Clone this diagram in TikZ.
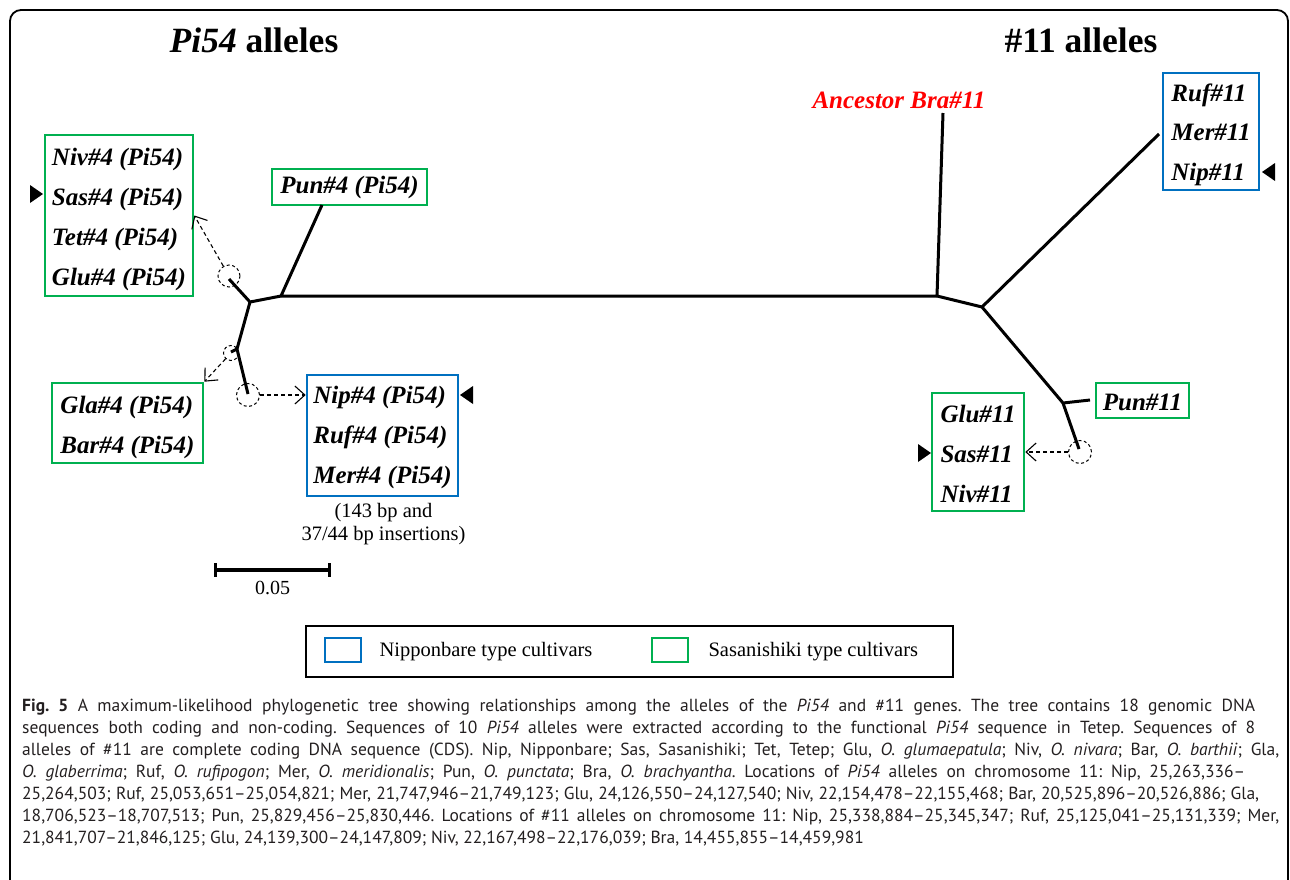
\documentclass[tikz,border=0pt]{standalone}
\usepackage{fontspec}
\setmainfont{Liberation Serif}
\newfontfamily\capfont{PT Sans}
\usetikzlibrary{arrows.meta,calc}
\definecolor{nipblue}{RGB}{0,112,192}
\definecolor{sasgreen}{RGB}{0,176,80}
\definecolor{capgray}{RGB}{35,31,32}
\newcommand{\tup}[1]{\rule{0pt}{#1}}
\begin{document}
\begin{tikzpicture}[x=1pt,y=-1pt,
  lbl/.style={font=\fontsize{25}{40}\selectfont\bfseries\itshape, align=left, inner sep=0pt},
  bluebox/.style={lbl, draw=nipblue, line width=2.6pt},
  greenbox/.style={lbl, draw=sasgreen, line width=2.6pt},
  branch/.style={line width=3pt, line join=round},
  dcirc/.style={circle, draw, dashed, dash pattern=on 3pt off 2.5pt, line width=1pt, inner sep=0pt},
  darr/.style={dash pattern=on 4pt off 3pt, line width=1.1pt, -{Straight Barb[length=10pt,width=18pt,line width=1.1pt]}},
  legtext/.style={anchor=west, font=\fontsize{20.5}{24}\selectfont},
  capline/.style={anchor=base west, inner sep=0pt, font=\capfont\fontsize{17.5}{22}\selectfont\frenchspacing, text=capgray}
]
\useasboundingbox (0,0) rectangle (1290,879);
% frame
\draw[line width=1.8pt, rounded corners=11pt] (10,900) -- (10,10) -- (1288,10) -- (1288,900);
% titles
\node[anchor=base, font=\fontsize{35.5}{40}\selectfont\bfseries] (t1) at (254,52) {\textit{Pi54} alleles};
\node[anchor=base, font=\fontsize{35.5}{40}\selectfont\bfseries] (t2) at (1081,52) {\#11 alleles};
% boxes
\node[greenbox, minimum width=148, minimum height=161] (niv4) at (119,215.5) {\tup{25pt}Niv\#4 (Pi54)\\Sas\#4 (Pi54)\\Tet\#4 (Pi54)\\Glu\#4 (Pi54)};
\node[greenbox, minimum width=155, minimum height=36] (pun4) at (349.5,187) {Pun\#4 (Pi54)};
\node[greenbox, minimum width=151, minimum height=80] (gla4) at (127.5,423) {\tup{27pt}Gla\#4 (Pi54)\\Bar\#4 (Pi54)};
\node[bluebox, minimum width=151, minimum height=121] (nip4) at (382.5,435.5) {\tup{22pt}Nip\#4 (Pi54)\\Ruf\#4 (Pi54)\\Mer\#4 (Pi54)};
\node[bluebox, minimum width=96, minimum height=117] (ruf11) at (1211,131.5) {\tup{25pt}Ruf\#11\\[-1pt]Mer\#11\\Nip\#11};
\node[greenbox, minimum width=93, minimum height=35] (pun11) at (1142.5,400.5) {\tup{20pt}Pun\#11};
\node[greenbox, minimum width=92, minimum height=118] (glu11) at (978,452) {\tup{22pt}Glu\#11\\Sas\#11\\Niv\#11};
\node[lbl, anchor=base, text=red] (bra11) at (899,108) {Ancestor Bra\#11};
\node[anchor=base, align=center, font=\fontsize{20.5}{23}\selectfont] (ins) at (383.5,540) {(143 bp and\\37/44 bp insertions)};
% markers
\fill (30,185) -- (43,194) -- (30,203) -- cycle;
\fill (473,386) -- (460,395) -- (473,404) -- cycle;
\fill (1275,163) -- (1262,172) -- (1275,181) -- cycle;
\fill (918,444) -- (931,453) -- (918,462) -- cycle;
% tree coordinates
\coordinate (p1) at (281,296);
\coordinate (a) at (250,302);
\coordinate (b) at (237,349);
\coordinate (c) at (248,394);
\coordinate (la) at (229,279);
\coordinate (lb) at (231,352);
\coordinate (punleaf) at (322,205);
\coordinate (d) at (937,296);
\coordinate (e) at (982,307);
\coordinate (f) at (1063,403);
\coordinate (g) at (1079,449);
\coordinate (bra) at (943,113);
\coordinate (rufleaf) at (1159,134);
\coordinate (pun11leaf) at (1090,400);
% tree
\draw[branch] (punleaf) -- (p1) -- (d) -- (bra);
\draw[branch] (p1) -- (a) -- (la);
\draw[branch] (a) -- (b) -- (c);
\draw[branch] (b) -- (lb);
\draw[branch] (d) -- (e) -- (rufleaf);
\draw[branch] (e) -- (f) -- (pun11leaf);
\draw[branch] (f) -- (g);
% dashed circles
\node[dcirc, minimum size=22] (c1) at (229,276) {};
\node[dcirc, minimum size=15] (c2) at (231,353) {};
\node[dcirc, minimum size=23] (c3) at (248,395) {};
\node[dcirc, minimum size=23] (c4) at (1080,452) {};
% dashed arrows
\draw[darr] (c1) -- (niv4.east);
\draw[darr] (c2) -- (gla4.north east);
\draw[darr] (c3) -- (c3 -| nip4.west);
\draw[darr] (c4) -- (c4 -| glu11.east);
% scale bar
\coordinate (sb1) at (215,570);
\coordinate (sb2) at (329,570);
\draw[line width=3.5pt] (sb1) -- (sb2);
\draw[line width=3pt] (215,563) -- (215,577) (329,563) -- (329,577);
\node[anchor=base, font=\fontsize{20}{24}\selectfont] (sblbl) at (272.5,594) {0.05};
% legend
\node[draw, line width=2.6pt, minimum width=647, minimum height=51] (legend) at (629.5,651.5) {};
\node[draw=nipblue, line width=2.6pt, minimum width=36, minimum height=24] (legnip) at (343,650) {};
\node[legtext] (legniptxt) at (376,652) {Nipponbare type cultivars};
\node[draw=sasgreen, line width=2.6pt, minimum width=36, minimum height=24] (legsas) at (670,650) {};
\node[legtext] (legsastxt) at (705,652) {Sasanishiki type cultivars};
% caption
\node[capline] (cap1) at (22,711) {\makebox[1233pt][s]{\textbf{Fig. 5} A maximum-likelihood phylogenetic tree showing relationships among the alleles of the \textit{Pi54} and \#11 genes. The tree contains 18 genomic DNA}};
\node[capline] (cap2) at (22,733) {\makebox[1233pt][s]{sequences both coding and non-coding. Sequences of 10 \textit{Pi54} alleles were extracted according to the functional \textit{Pi54} sequence in Tetep. Sequences of 8}};
\node[capline] (cap3) at (22,755) {\makebox[1257pt][s]{alleles of \#11 are complete coding DNA sequence (CDS). Nip, Nipponbare; Sas, Sasanishiki; Tet, Tetep; Glu, \textit{O. glumaepatula}; Niv, \textit{O. nivara}; Bar, \textit{O. barthii}; Gla,}};
\node[capline] (cap4) at (22,777) {\makebox[1223pt][s]{\textit{O. glaberrima}; Ruf, \textit{O. rufipogon}; Mer, \textit{O. meridionalis}; Pun, \textit{O. punctata}; Bra, \textit{O. brachyantha}. Locations of \textit{Pi54} alleles on chromosome 11: Nip, 25,263,336–}};
\node[capline] (cap5) at (22,799) {\makebox[1237pt][s]{25,264,503; Ruf, 25,053,651–25,054,821; Mer, 21,747,946–21,749,123; Glu, 24,126,550–24,127,540; Niv, 22,154,478–22,155,468; Bar, 20,525,896–20,526,886; Gla,}};
\node[capline] (cap6) at (22,821) {\makebox[1257pt][s]{18,706,523–18,707,513; Pun, 25,829,456–25,830,446. Locations of \#11 alleles on chromosome 11: Nip, 25,338,884–25,345,347; Ruf, 25,125,041–25,131,339; Mer,}};
\node[capline] (cap7) at (22,843) {21,841,707–21,846,125; Glu, 24,139,300–24,147,809; Niv, 22,167,498–22,176,039; Bra, 14,455,855–14,459,981};
\end{tikzpicture}
\end{document}
